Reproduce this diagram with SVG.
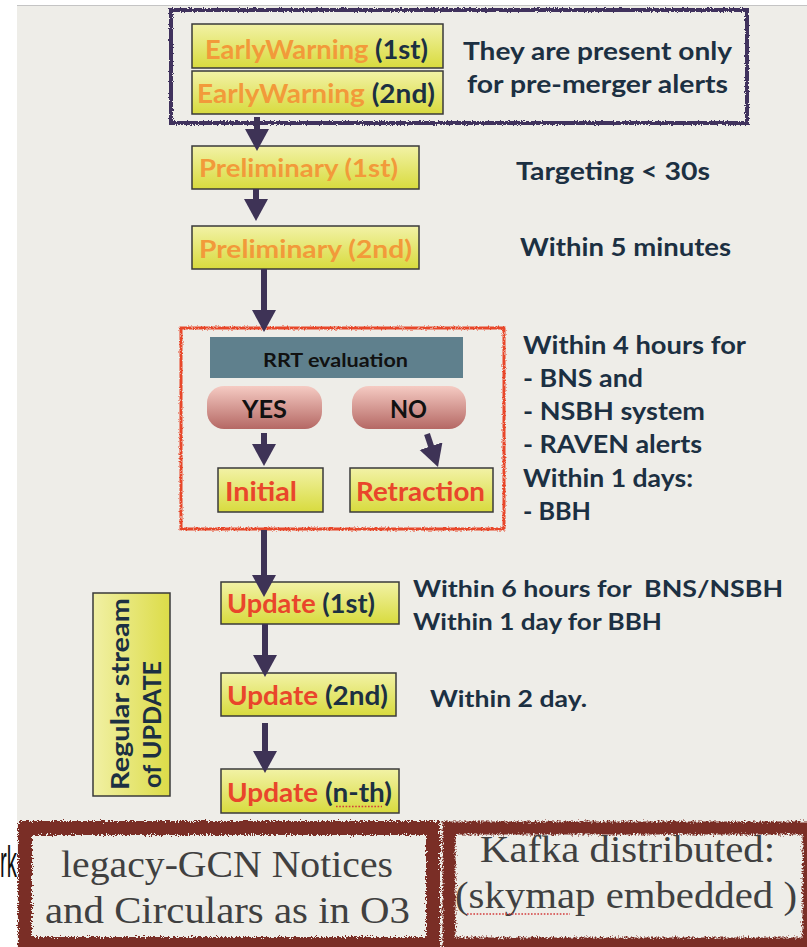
<svg xmlns="http://www.w3.org/2000/svg" width="807" height="947" viewBox="0 0 807 947">
<defs>
  <style>
    .sans{font-family:Lato,"Open Sans","Liberation Sans",sans-serif;font-weight:700;}
    .serif{font-family:"Liberation Serif","DejaVu Serif",serif;fill:#404040;}
    .dark{fill:#1c3042;}
    .orange{fill:#f29a3a;}
    .red{fill:#e9462b;}
    .box{fill:url(#yellow);stroke:#3a3a3a;stroke-width:1.5;}
    .pill{fill:url(#pink);}
    .arrow{stroke:#3e3356;stroke-width:6;fill:none;marker-end:url(#head);}
    .squig{stroke:#d23b3b;stroke-width:1.6;stroke-dasharray:1.6 1.6;fill:none;}
  </style>
  <linearGradient id="yellow" x1="0" y1="0" x2="0" y2="1">
    <stop offset="0" stop-color="#f2f2a6"/>
    <stop offset="1" stop-color="#d8db3e"/>
  </linearGradient>
  <linearGradient id="yellowH" x1="0" y1="0" x2="1" y2="0">
    <stop offset="0" stop-color="#f1f0a4"/>
    <stop offset="1" stop-color="#dcdc48"/>
  </linearGradient>
  <linearGradient id="pink" x1="0" y1="0" x2="0" y2="1">
    <stop offset="0" stop-color="#f5cbc3"/>
    <stop offset="1" stop-color="#b56864"/>
  </linearGradient>
  <marker id="head" markerUnits="userSpaceOnUse" markerWidth="24" markerHeight="26" refX="10" refY="12" orient="auto">
    <path d="M0,0 L22,12 L0,24 z" fill="#3e3356"/>
  </marker>
  <filter id="rough" x="-5%" y="-10%" width="110%" height="120%">
    <feTurbulence type="fractalNoise" baseFrequency="0.7" numOctaves="2" seed="4"/>
    <feDisplacementMap in="SourceGraphic" scale="3.5" xChannelSelector="R" yChannelSelector="G"/>
  </filter>
  <filter id="rough2" x="-5%" y="-10%" width="110%" height="120%">
    <feTurbulence type="fractalNoise" baseFrequency="0.6" numOctaves="3" seed="7"/>
    <feDisplacementMap in="SourceGraphic" scale="7" xChannelSelector="R" yChannelSelector="G"/>
  </filter>
</defs>

<!-- background -->
<rect x="0" y="0" width="807" height="947" fill="#ffffff"/>
<rect x="17" y="6" width="790" height="941" fill="#eeede8"/>
<line x1="17" y1="5.5" x2="807" y2="5.5" stroke="#c4c4c4" stroke-width="1"/>

<!-- partly visible text at left edge -->
<text x="0" y="877" font-family="'Liberation Sans',Arial,sans-serif" font-size="44" fill="#111" textLength="17" lengthAdjust="spacingAndGlyphs">rk</text>

<!-- group frames -->
<g id="earlywarning-frame">
  <rect x="171" y="10" width="576" height="113" fill="none" stroke="#3f315d" stroke-width="4" filter="url(#rough)"/>
  <text class="sans dark" font-size="25" x="463" y="60" textLength="269" lengthAdjust="spacingAndGlyphs">They are present only</text>
  <text class="sans dark" font-size="25" x="467" y="93" textLength="261" lengthAdjust="spacingAndGlyphs">for pre-merger alerts</text>
</g>

<g id="ew1">
  <rect class="box" x="192" y="24" width="251" height="44"/>
  <text class="sans" font-size="27" x="205" y="59" textLength="223" lengthAdjust="spacingAndGlyphs"><tspan class="orange">EarlyWarning</tspan><tspan class="dark"> (1st)</tspan></text>
</g>
<g id="ew2">
  <rect class="box" x="192" y="71" width="251" height="43"/>
  <text class="sans" font-size="27" x="197" y="103" textLength="238" lengthAdjust="spacingAndGlyphs"><tspan class="orange">EarlyWarning</tspan><tspan class="dark"> (2nd)</tspan></text>
</g>

<g id="prelim1">
  <rect class="box" x="192" y="146" width="227" height="43"/>
  <text class="sans orange" font-size="24" x="199" y="177" textLength="199" lengthAdjust="spacingAndGlyphs">Preliminary (1st)</text>
  <text class="sans dark" font-size="25" x="516" y="180" textLength="194" lengthAdjust="spacingAndGlyphs">Targeting &lt; 30s</text>
</g>
<g id="prelim2">
  <rect class="box" x="192" y="226" width="227" height="43"/>
  <text class="sans orange" font-size="24" x="199" y="258" textLength="213" lengthAdjust="spacingAndGlyphs">Preliminary (2nd)</text>
  <text class="sans dark" font-size="25" x="520" y="256" textLength="211" lengthAdjust="spacingAndGlyphs">Within 5 minutes</text>
</g>

<g id="rrt-frame">
  <rect x="181" y="328" width="323" height="201" fill="none" stroke="#e8462c" stroke-width="3" filter="url(#rough)"/>
  <g class="sans dark" font-size="25">
    <text x="523" y="354" textLength="223" lengthAdjust="spacingAndGlyphs">Within 4 hours for</text>
    <text x="523" y="387" textLength="120" lengthAdjust="spacingAndGlyphs">- BNS and</text>
    <text x="523" y="420" textLength="182" lengthAdjust="spacingAndGlyphs">- NSBH system</text>
    <text x="523" y="453" textLength="179" lengthAdjust="spacingAndGlyphs">- RAVEN alerts</text>
    <text x="523" y="487" textLength="170" lengthAdjust="spacingAndGlyphs">Within 1 days:</text>
    <text x="523" y="520" textLength="68" lengthAdjust="spacingAndGlyphs">- BBH</text>
  </g>
</g>

<g id="rrt">
  <rect x="210" y="337" width="253" height="41" fill="#5f808d"/>
  <text class="sans" font-size="19" fill="#111" x="263" y="367" textLength="145" lengthAdjust="spacingAndGlyphs">RRT evaluation</text>
</g>
<g id="yes">
  <rect class="pill" x="207" y="386" width="115" height="43" rx="17"/>
  <text class="sans" font-size="24" fill="#111" x="242" y="418" textLength="45" lengthAdjust="spacingAndGlyphs">YES</text>
</g>
<g id="no">
  <rect class="pill" x="352" y="386" width="114" height="43" rx="17"/>
  <text class="sans" font-size="24" fill="#111" x="390" y="418" textLength="37" lengthAdjust="spacingAndGlyphs">NO</text>
</g>
<g id="initial">
  <rect class="box" x="218" y="468" width="105" height="44"/>
  <text class="sans red" font-size="26" x="225" y="501" textLength="72" lengthAdjust="spacingAndGlyphs">Initial</text>
</g>
<g id="retraction">
  <rect class="box" x="350" y="468" width="143" height="44"/>
  <text class="sans red" font-size="26" x="356" y="501" textLength="129" lengthAdjust="spacingAndGlyphs">Retraction</text>
</g>

<g id="update1">
  <rect class="box" x="221" y="582" width="178" height="42"/>
  <text class="sans" font-size="26" x="227" y="613" textLength="148" lengthAdjust="spacingAndGlyphs"><tspan class="red">Update</tspan><tspan class="dark"> (1st)</tspan></text>
  <text class="sans dark" font-size="23" x="413" y="597" textLength="370" lengthAdjust="spacingAndGlyphs" xml:space="preserve">Within 6 hours for  BNS/NSBH</text>
  <text class="sans dark" font-size="23" x="413" y="630" textLength="249" lengthAdjust="spacingAndGlyphs">Within 1 day for BBH</text>
</g>
<g id="update2">
  <rect class="box" x="221" y="673" width="175" height="43"/>
  <text class="sans" font-size="26" x="227" y="705" textLength="161" lengthAdjust="spacingAndGlyphs"><tspan class="red">Update</tspan><tspan class="dark"> (2nd)</tspan></text>
  <text class="sans dark" font-size="23" x="430" y="707" textLength="157" lengthAdjust="spacingAndGlyphs">Within 2 day.</text>
</g>
<g id="updateN">
  <rect class="box" x="221" y="769" width="178" height="44"/>
  <text class="sans" font-size="26" x="227" y="802" textLength="165" lengthAdjust="spacingAndGlyphs"><tspan class="red">Update</tspan><tspan class="dark"> (n-th)</tspan></text>
  <line class="squig" x1="336" y1="806.5" x2="382" y2="806.5"/>
</g>

<g id="regular-stream">
  <rect x="93" y="593" width="77" height="203" fill="url(#yellowH)" stroke="#3a3a3a" stroke-width="1.5"/>
  <text class="sans dark" font-size="24" transform="translate(129,790) rotate(-90)" textLength="192" lengthAdjust="spacingAndGlyphs">Regular stream</text>
  <text class="sans dark" font-size="24" transform="translate(161,788) rotate(-90)" textLength="127" lengthAdjust="spacingAndGlyphs">of UPDATE</text>
</g>

<g id="legacy-gcn">
  <rect x="25" y="828" width="408" height="116" fill="none" stroke="#7a2e27" stroke-width="14" filter="url(#rough2)"/>
  <text class="serif" font-size="38" x="61" y="877" textLength="332" lengthAdjust="spacingAndGlyphs">legacy-GCN Notices</text>
  <text class="serif" font-size="38" x="45" y="923" textLength="365" lengthAdjust="spacingAndGlyphs">and Circulars as in O3</text>
</g>
<g id="kafka">
  <rect x="449" y="828" width="360" height="116" fill="none" stroke="#7a2e27" stroke-width="13" filter="url(#rough2)"/>
  <text class="serif" font-size="38" x="480" y="862" textLength="295" lengthAdjust="spacingAndGlyphs">Kafka distributed:</text>
  <text class="serif" font-size="38" x="455" y="908" textLength="342" lengthAdjust="spacingAndGlyphs">(skymap embedded )</text>
  <line class="squig" x1="467" y1="914" x2="570" y2="914"/>
</g>

<g id="connectors">
  <line class="arrow" x1="257" y1="117" x2="257" y2="139"/>
  <line class="arrow" x1="256" y1="189" x2="256" y2="209"/>
  <line class="arrow" x1="264" y1="269" x2="264" y2="320"/>
  <line class="arrow" x1="264" y1="433" x2="264" y2="454"/>
  <line class="arrow" x1="427" y1="434" x2="434.2" y2="455.6"/>
  <line class="arrow" x1="264" y1="530" x2="264" y2="585"/>
  <line class="arrow" x1="265" y1="624" x2="265" y2="665"/>
  <line class="arrow" x1="265" y1="723" x2="265" y2="761"/>
</g>
</svg>
